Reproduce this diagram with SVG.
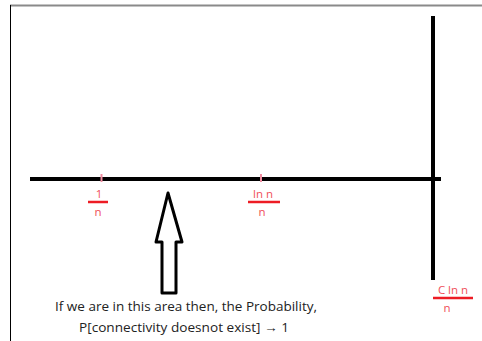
<svg xmlns="http://www.w3.org/2000/svg" width="482" height="341" viewBox="0 0 482 341">
<style>
.axis{stroke:#000;stroke-width:4;fill:none}
.tick{stroke:#f08ca0;stroke-width:2}
.bar{stroke:#ed1c24;stroke-width:2.5}
.lbl{font-family:"Open Sans","Liberation Sans",sans-serif;font-size:11.5px;fill:#f0505a;text-anchor:middle}
.txt{font-family:"Open Sans","Liberation Sans",sans-serif;font-size:13px;fill:#222;text-anchor:middle}
</style>
<rect width="482" height="341" fill="#fff"/>
<g id="frame">
<line x1="10" y1="5.5" x2="482" y2="5.5" stroke="#8a8a8a" stroke-width="2"/>
<line x1="10.5" y1="5" x2="10.5" y2="341" stroke="#000" stroke-width="1"/>
</g>
<g id="connectors">
<line class="axis" x1="30" y1="179" x2="441" y2="179"/>
<line class="axis" x1="433" y1="16" x2="433" y2="280"/>
</g>
<g id="tick1">
<line class="tick" x1="101.5" y1="174" x2="101.5" y2="182"/>
<text class="lbl" x="99" y="198">1</text>
<line class="bar" x1="88" y1="202" x2="108" y2="202"/>
<text class="lbl" x="98" y="216">n</text>
</g>
<g id="tick2">
<line class="tick" x1="261" y1="174" x2="261" y2="182"/>
<text class="lbl" x="263" y="198">ln n</text>
<line class="bar" x1="248" y1="202" x2="280" y2="202"/>
<text class="lbl" x="262" y="216">n</text>
</g>
<g id="cln">
<text class="lbl" x="453" y="294">C ln n</text>
<line class="bar" x1="433" y1="298" x2="473" y2="298"/>
<text class="lbl" x="447" y="312">n</text>
</g>
<g id="arrow">
<path d="M168,193 L182,242 L176,242 L176,293 L162,293 L162,242 L156,242 Z" fill="#fff" stroke="#000" stroke-width="3" stroke-linejoin="round"/>
</g>
<g id="caption">
<text class="txt" x="186" y="311" textLength="262" lengthAdjust="spacingAndGlyphs">If we are in this area then, the Probability,</text>
<text class="txt" x="184" y="332" textLength="210" lengthAdjust="spacingAndGlyphs">P[connectivity doesnot exist] → 1</text>
</g>
</svg>
